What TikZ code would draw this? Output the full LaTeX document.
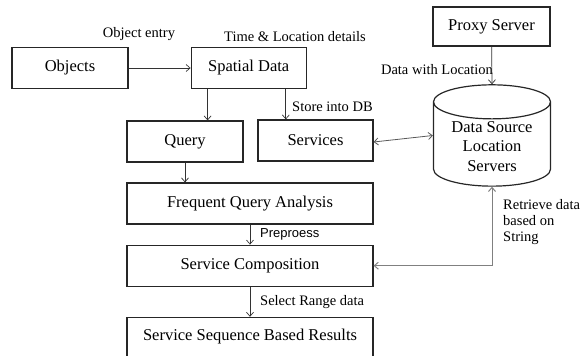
\documentclass[tikz,border=0pt]{standalone}
\usepackage{fontspec}
\setmainfont{Liberation Serif}
\newfontfamily\labelsans{Liberation Sans}
\usetikzlibrary{arrows.meta,positioning,shapes.geometric}
\tikzset{
  box/.style={draw=black!85, line width=1.2pt, align=center, inner sep=3pt, minimum height=41pt, minimum width=116pt, font=\fontsize{16.5}{19.5}\selectfont},
  widebox/.style={box, minimum width=246pt},
  store/.style={cylinder, shape border rotate=90, draw=black!85, line width=1.2pt, aspect=0.4, minimum width=117pt, minimum height=96pt, align=center, inner sep=2pt, font=\fontsize{16.5}{19.5}\selectfont},
  lbl/.style={inner sep=1pt, font=\fontsize{14.5}{16}\selectfont},
  sanslbl/.style={inner sep=1pt, font=\labelsans\fontsize{13}{15}\selectfont},
  arrow/.style={-{Straight Barb[length=4pt,width=7pt]}, line width=0.7pt, black!80},
  grayarrow/.style={{Straight Barb[length=4pt,width=7pt]}-{Straight Barb[length=4pt,width=7pt]}, line width=1pt, black!50}
}
\begin{document}
\begin{tikzpicture}[x=1pt, y=-1pt, node distance=20pt]
\useasboundingbox (0,0) rectangle (582,356);
% boxes
\node[box] (objects) at (70,68) {Objects};
\node[box, minimum width=115pt, right=62pt of objects] (spatial) {Spatial Data};
\node[box, minimum width=117pt, minimum height=39pt] (proxy) at (491.5,26.5) {Proxy Server};
\node[box] (query) at (185,141.5) {Query};
\node[box, minimum width=115pt] (services) at (315.5,140.5) {Services};
\node[store] (db) at (492,146.5) {Data Source\\Location\\Servers};
\node[widebox] (fqa) at (250,203.5) {Frequent Query Analysis};
\node[widebox, below=20pt of fqa] (comp) {Service Composition};
\node[widebox, minimum height=39pt, below=30pt of comp] (results) {Service Sequence Based Results};
% connectors
\draw[arrow] (objects) -- (spatial);
\draw[arrow] ([xshift=17pt]spatial.south west) -- ([xshift=17pt]spatial.south west |- query.north);
\draw[arrow] ([xshift=-21pt]spatial.south east) -- ([xshift=-21pt]spatial.south east |- services.north);
\draw[arrow] (proxy) -- (db.north);
\draw[grayarrow, black!65, line width=0.8pt] ([yshift=-1.5pt]services.east) -- ([yshift=11pt]db.west);
\draw[arrow] (query.south) -- (query.south |- fqa.north);
\draw[arrow] (fqa) -- (comp);
\draw[arrow] (comp) -- (results);
\draw[grayarrow] (db.south) |- (comp.east);
% labels
\node[lbl] (l1) at (139,34) {Object entry};
\node[lbl] (l2) at (295,37) {Time \& Location details};
\node[lbl, anchor=west] (l3) at (291,107) {Store into DB};
\node[lbl] (l4) at (437,70) {Data with Location};
\node[sanslbl, anchor=west] (l5) at (259,234) {Preproess};
\node[lbl, anchor=west] (l6) at (259,302) {Select Range data};
\node[lbl, anchor=north west, align=left] (l7) at (502,198) {Retrieve data\\based on\\String};
\end{tikzpicture}
\end{document}
